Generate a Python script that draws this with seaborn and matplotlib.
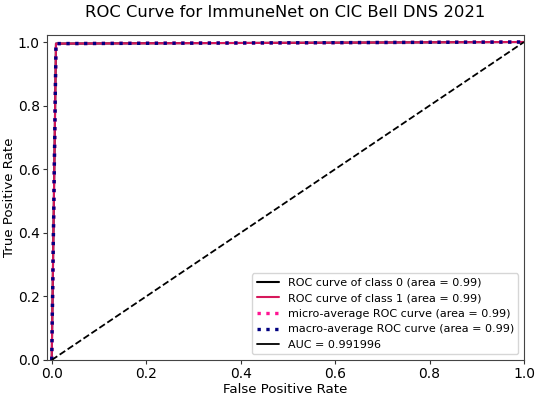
import matplotlib
matplotlib.use("Agg")
import matplotlib.pyplot as plt
import seaborn as sns

fpr_class0 = [0.0, 0.009, 1.0]
tpr_class0 = [0.0, 0.995, 1.0]
fpr_class1 = [0.0, 0.009, 1.0]
tpr_class1 = [0.0, 0.995, 1.0]
fpr_micro = [0.0, 0.009, 1.0]
tpr_micro = [0.0, 0.995, 1.0]
fpr_macro = [0.0, 0.009, 1.0]
tpr_macro = [0.0, 0.995, 1.0]
diag = [0.0, 1.0]
labels = ["ROC curve of class 0 (area = 0.99)",
          "ROC curve of class 1 (area = 0.99)",
          "micro-average ROC curve (area = 0.99)",
          "macro-average ROC curve (area = 0.99)",
          "AUC = 0.991996"]

sns.set_style("ticks")
plt.rcParams['font.family'] = ['DejaVu Sans']
plt.rcParams['text.color'] = 'black'
plt.rcParams['axes.labelcolor'] = 'black'
plt.rcParams['xtick.color'] = 'black'
plt.rcParams['ytick.color'] = 'black'

fig = plt.figure(figsize=(5.36, 3.97), dpi=100)
ax = fig.add_axes([0.0877, 0.0932, 0.8899, 0.8186])

sns.lineplot(x=fpr_class0, y=tpr_class0, ax=ax, color="black", lw=1.5, label=labels[0], estimator=None, sort=False)
sns.lineplot(x=fpr_class1, y=tpr_class1, ax=ax, color="#d6185b", lw=1.5, label=labels[1], estimator=None, sort=False)
sns.lineplot(x=fpr_micro, y=tpr_micro, ax=ax, color="deeppink", lw=2.4, linestyle=":", label=labels[2], estimator=None, sort=False)
sns.lineplot(x=fpr_macro, y=tpr_macro, ax=ax, color="navy", lw=2.4, linestyle=":", label=labels[3], estimator=None, sort=False)
sns.lineplot(x=diag, y=diag, ax=ax, color="black", lw=1.3, linestyle="--", estimator=None, sort=False)
ax.plot([], [], color="black", lw=1.3, label=labels[4])

ax.set_xlim(-0.01, 1.0)
ax.set_ylim(0.0, 1.022)
ax.set_xlabel("False Positive Rate", fontsize=9.6, labelpad=1, color="black")
ax.set_ylabel("True Positive Rate", fontsize=9.6, labelpad=1, color="black")
ax.set_title("ROC Curve for ImmuneNet on CIC Bell DNS 2021", fontsize=11.8, pad=13, color="black")
ax.tick_params(labelsize=10, length=2.8, pad=2.5, color="#333333", labelcolor="black")
for s in ax.spines.values():
    s.set_visible(True)
    s.set_color("#444444")
leg = ax.legend(loc="lower right", fontsize=8)
for t in leg.get_texts():
    t.set_color("black")
fig.savefig("out.png", dpi=100)
